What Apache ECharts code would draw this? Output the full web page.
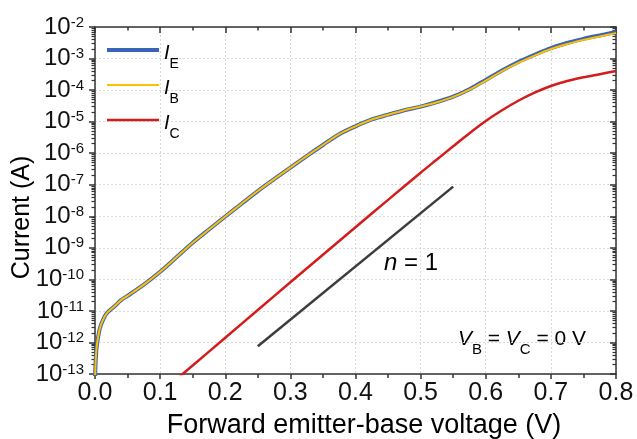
<!DOCTYPE html>
<html><head><meta charset="utf-8">
<script src="https://cdn.jsdelivr.net/npm/echarts@6/dist/echarts.min.js"></script>
<style>html,body{margin:0;padding:0;background:#fff}#c{width:637px;height:439px}</style>
</head><body><div id="c"></div>
<script>
// Forward emitter-base voltage (V) and currents (A)
const vE = [0, 0.001, 0.0025, 0.005, 0.0075, 0.01, 0.015, 0.02, 0.03, 0.04, 0.05, 0.075, 0.1, 0.125, 0.15, 0.175, 0.2, 0.225, 0.25, 0.275, 0.3, 0.325, 0.35, 0.375, 0.4, 0.425, 0.45, 0.475, 0.5, 0.525, 0.55, 0.575, 0.6, 0.625, 0.65, 0.675, 0.7, 0.725, 0.75, 0.775, 0.8];
const iE = [6.3e-14, 2.5e-13, 7.1e-13, 1.6e-12, 2.8e-12, 4.0e-12, 6.8e-12, 9.3e-12, 1.4e-11, 2.2e-11, 3.0e-11, 6.8e-11, 1.74e-10, 5.0e-10, 1.45e-9, 3.8e-9, 9.8e-9, 2.5e-8, 6.3e-8, 1.5e-7, 3.5e-7, 8.1e-7, 1.82e-6, 4.0e-6, 7.1e-6, 1.17e-5, 1.66e-5, 2.3e-5, 3.0e-5, 4.2e-5, 6.2e-5, 1.07e-4, 2.1e-4, 4.2e-4, 7.8e-4, 1.32e-3, 2.14e-3, 3.1e-3, 4.2e-3, 5.4e-3, 6.9e-3];
const iB = [6.3e-14, 2.5e-13, 7.1e-13, 1.6e-12, 2.8e-12, 4.0e-12, 6.8e-12, 9.3e-12, 1.4e-11, 2.2e-11, 3.0e-11, 6.8e-11, 1.74e-10, 5.0e-10, 1.45e-9, 3.8e-9, 9.8e-9, 2.5e-8, 6.3e-8, 1.5e-7, 3.5e-7, 8.1e-7, 1.82e-6, 4.0e-6, 7.1e-6, 1.17e-5, 1.66e-5, 2.3e-5, 3.0e-5, 4.1e-5, 6.1e-5, 1.04e-4, 2.0e-4, 4.0e-4, 7.3e-4, 1.24e-3, 2.0e-3, 2.9e-3, 3.9e-3, 5.0e-3, 6.4e-3];
const vC = [0.13, 0.15, 0.2, 0.25, 0.3, 0.35, 0.4, 0.45, 0.5, 0.525, 0.55, 0.575, 0.6, 0.625, 0.65, 0.675, 0.7, 0.725, 0.75, 0.775, 0.8];
const iC = [8.3e-14, 1.86e-13, 1.41e-12, 1.07e-11, 8.1e-11, 6.0e-10, 4.5e-9, 3.3e-8, 2.4e-7, 6.3e-7, 1.66e-6, 4.3e-6, 1.05e-5, 2.3e-5, 4.6e-5, 8.3e-5, 1.35e-4, 1.95e-4, 2.57e-4, 3.2e-4, 4.0e-4];
// n = 1 guide line (end points)
const vGuide = [0.25, 0.55];
const iGuide = [7.6e-13, 8.7e-8];
// axis ticks: voltage ticks, and decade exponents of the current axis (10^n A)
const xTicks = [0, 0.1, 0.2, 0.3, 0.4, 0.5, 0.6, 0.7, 0.8];
const yDecades = [-13, -12, -11, -10, -9, -8, -7, -6, -5, -4, -3, -2];
const seriesNames = ['IE', 'IB', 'IC'];

const FONT = '"Liberation Sans", Arial, sans-serif';
// log-scale minor tick positions (2..9 x 10^n), in decade units
const minorExp = [];
for (let i = 0; i < yDecades.length - 1; i++) for (let k = 2; k <= 9; k++) minorExp.push(yDecades[i] + Math.log10(k));

// the current axis is logarithmic: points are placed at log10(I)
const pairs = (xs, ys) => xs.map((x, i) => [x, Math.log10(ys[i])]);
const axisLine = { show: true, lineStyle: { color: '#333', width: 1.5 } };
const yMin = yDecades[0], yMax = yDecades[yDecades.length - 1];

const chart = echarts.init(document.getElementById('c'), null, { renderer: 'canvas' });
chart.setOption({
  animation: false,
  backgroundColor: '#fff',
  grid: { left: 95, right: 21, top: 27, bottom: 65 },
  legend: {
    data: [
      { name: 'IE', lineStyle: { width: 4 } },
      { name: 'IB', lineStyle: { width: 2 } },
      { name: 'IC', lineStyle: { width: 2.5 } }
    ],
    orient: 'vertical', left: 100, top: 35,
    itemWidth: 52, itemHeight: 14, itemGap: -1,
    itemStyle: { color: 'rgba(0,0,0,0)', borderWidth: 0, opacity: 0 },
    formatter: n => `{i|I}{s|${n.slice(1)}}`,
    textStyle: {
      rich: {
        i: { fontFamily: FONT, fontSize: 20, lineHeight: 20, fontStyle: 'italic', color: '#000', verticalAlign: 'top', padding: [3, 0, 13, 0] },
        s: { fontFamily: FONT, fontSize: 14, lineHeight: 14, color: '#000', verticalAlign: 'top', padding: [17, 0, 0, 0] }
      }
    }
  },
  xAxis: [
    { type: 'value', position: 'bottom', min: xTicks[0], max: xTicks[xTicks.length - 1], interval: 0.1,
      axisLine, axisTick: { show: true, inside: false, length: 5, lineStyle: { color: '#333', width: 1.5 } },
      minorTick: { show: true, splitNumber: 2, length: 4, lineStyle: { color: '#333', width: 1.5 } },
      axisLabel: { margin: 7, fontFamily: FONT, fontSize: 25, color: '#111', showMinLabel: true, showMaxLabel: true, formatter: v => v.toFixed(1) },
      splitLine: { show: true, lineStyle: { color: '#d8d8d8', type: [2, 2], width: 1 } } },
    { type: 'value', position: 'top', min: xTicks[0], max: xTicks[xTicks.length - 1], interval: 0.1,
      axisLine, axisTick: { show: true, inside: true, length: 6, lineStyle: { color: '#333', width: 1.5 } },
      minorTick: { show: true, splitNumber: 2, length: 3.5, lineStyle: { color: '#333', width: 1.5 } },
      axisLabel: { show: false }, splitLine: { show: false } }
  ],
  yAxis: [
    { type: 'value', min: yMin, max: yMax, interval: 1, position: 'left',
      axisLine, axisTick: { show: true, inside: false, length: 6, lineStyle: { color: '#333', width: 1.5 } },
      axisLabel: { margin: 11, showMinLabel: true, showMaxLabel: true, hideOverlap: false,
        formatter: v => `{b|10}{s|${Math.round(v)}}`,
        rich: {
          b: { fontFamily: FONT, fontSize: 24, lineHeight: 24, color: '#111', verticalAlign: 'top' },
          s: { fontFamily: FONT, fontSize: 15, lineHeight: 15, color: '#111', verticalAlign: 'top' }
        } },
      splitLine: { show: true, lineStyle: { color: '#d8d8d8', type: [2, 2], width: 1 } } },
    { type: 'value', min: yMin, max: yMax, interval: 1, position: 'left',
      axisLine: { show: false }, axisLabel: { show: false }, splitLine: { show: false },
      axisTick: { show: true, inside: false, length: 3.5, customValues: minorExp, lineStyle: { color: '#333', width: 1.2 } } },
    { type: 'value', min: yMin, max: yMax, interval: 1, position: 'right',
      axisLine, axisLabel: { show: false }, splitLine: { show: false },
      axisTick: { show: true, inside: true, length: 6, lineStyle: { color: '#333', width: 1.5 } } },
    { type: 'value', min: yMin, max: yMax, interval: 1, position: 'right',
      axisLine: { show: false }, axisLabel: { show: false }, splitLine: { show: false },
      axisTick: { show: true, inside: true, length: 3.5, customValues: minorExp, lineStyle: { color: '#333', width: 1.2 } } }
  ],
  series: [
    { name: 'IE', type: 'line', data: pairs(vE, iE), symbol: 'none', smooth: 0.3,
      lineStyle: { color: '#3a64b8', width: 4 }, itemStyle: { color: '#3a64b8' }, z: 2 },
    { name: 'IB', type: 'line', data: pairs(vE, iB), symbol: 'none', smooth: 0.3,
      lineStyle: { color: '#ffc000', width: 2 }, itemStyle: { color: '#ffc000' }, z: 3 },
    { name: 'IC', type: 'line', data: pairs(vC, iC), symbol: 'none', smooth: 0.3,
      lineStyle: { color: '#d41c1c', width: 2.5 }, itemStyle: { color: '#d41c1c' }, z: 3 },
    { name: 'n=1', type: 'line', data: pairs(vGuide, iGuide), symbol: 'none',
      lineStyle: { color: '#3c3c3c', width: 2.5 }, z: 3 }
  ],
  graphic: [
    { type: 'text', x: 22, y: 217.5, rotation: Math.PI / 2,
      style: { text: 'Current (A)', font: `25px ${FONT}`, fill: '#000', align: 'center', verticalAlign: 'middle' } },
    { type: 'text', x: 364, y: 426,
      style: { text: 'Forward emitter-base voltage (V)', font: `27px ${FONT}`, fill: '#000', align: 'center', verticalAlign: 'middle' } },
    { type: 'text', x: 411, y: 263,
      style: { text: '{n|n}{t| = 1}', align: 'center', verticalAlign: 'middle',
        rich: { n: { fontFamily: FONT, fontSize: 24, fontStyle: 'italic', fill: '#000' }, t: { fontFamily: FONT, fontSize: 24, fill: '#000' } } } },
    { type: 'text', x: 522, y: 328.5,
      style: { text: '{v|V}{s|B}{t| = }{v|V}{s|C}{t| = 0 V}', align: 'center', verticalAlign: 'top',
        rich: {
          v: { fontFamily: FONT, fontSize: 21, lineHeight: 21, fontStyle: 'italic', fill: '#000', verticalAlign: 'top' },
          t: { fontFamily: FONT, fontSize: 21, lineHeight: 21, fill: '#000', verticalAlign: 'top' },
          s: { fontFamily: FONT, fontSize: 15, lineHeight: 15, fill: '#000', verticalAlign: 'top', padding: [13.5, 0, 0, 0] }
        } } }
  ]
});
</script></body></html>
